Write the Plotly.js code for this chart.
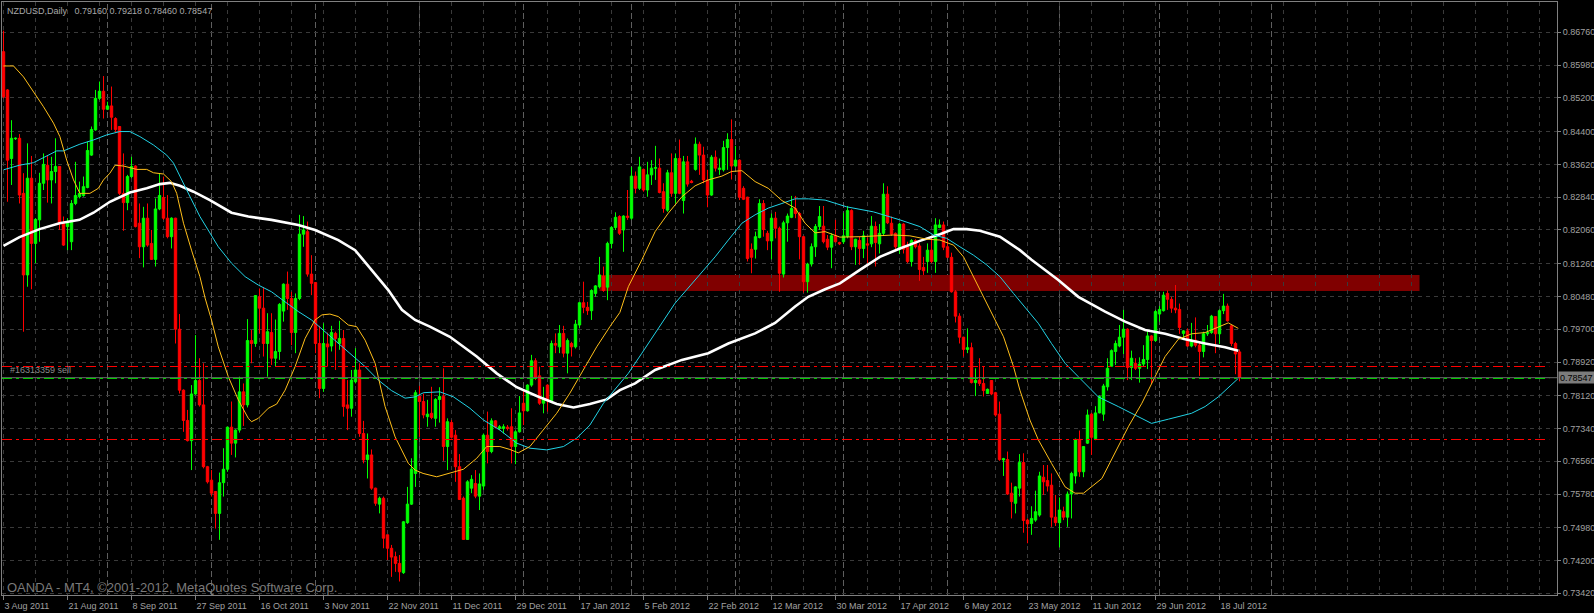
<!DOCTYPE html>
<html><head><meta charset="utf-8">
<script src="https://cdn.plot.ly/plotly-3.0.1.min.js"></script>
<style>html,body{margin:0;padding:0;background:#000;overflow:hidden}#chart{width:1594px;height:613px}</style>
</head><body><div id="chart"></div>
<script>
// ---- NZDUSD Daily OHLC (one value per bar, bar 0 = 3 Aug 2011) ----
const openP = [
0.8630,0.8539,0.8376,0.8423,0.8424,0.8293,0.8099,0.8329,0.8174,0.8230,
0.8317,0.8360,0.8325,0.8345,0.8357,0.8223,0.8214,0.8178,0.8269,0.8285,
0.8288,0.8307,0.8384,0.8444,0.8519,0.8536,0.8493,0.8501,0.8471,0.8452,
0.8293,0.8271,0.8333,0.8358,0.8222,0.8166,0.8234,0.8174,0.8136,0.8256,
0.8283,0.8234,0.8190,0.8234,0.7970,0.7825,0.7753,0.7705,0.7816,0.7848,
0.7790,0.7643,0.7611,0.7584,0.7532,0.7605,0.7637,0.7737,0.7699,0.7730,
0.7821,0.7790,0.7943,0.7936,0.8047,0.8020,0.7936,0.7962,0.7901,0.7917,
0.8013,0.8077,0.8043,0.7962,0.8043,0.8196,0.8202,0.8101,0.8081,0.7936,
0.7829,0.7935,0.7930,0.7960,0.7936,0.7948,0.7790,0.7782,0.7845,0.7873,
0.7722,0.7660,0.7671,0.7592,0.7554,0.7568,0.7481,0.7449,0.7429,0.7413,
0.7391,0.7510,0.7554,0.7627,0.7810,0.7798,0.7762,0.7770,0.7758,0.7803,
0.7810,0.7691,0.7748,0.7718,0.7643,0.7568,0.7470,0.7592,0.7603,0.7573,
0.7597,0.7718,0.7679,0.7752,0.7734,0.7734,0.7737,0.7738,0.7691,0.7726,
0.7794,0.7776,0.7837,0.7895,0.7859,0.7794,0.7837,0.7800,0.7936,0.7928,
0.7960,0.7913,0.7936,0.7928,0.7980,0.8033,0.8022,0.8014,0.8055,0.8071,
0.8096,0.8070,0.8174,0.8212,0.8238,0.8206,0.8239,0.8234,0.8334,0.8305,
0.8350,0.8301,0.8337,0.8353,0.8353,0.8297,0.8253,0.8342,0.8293,0.8376,
0.8276,0.8368,0.8322,0.8350,0.8410,0.8384,0.8325,0.8289,0.8379,0.8350,
0.8349,0.8402,0.8421,0.8358,0.8372,0.8305,0.8284,0.8160,0.8160,0.8188,
0.8269,0.8198,0.8180,0.8234,0.8210,0.8101,0.8223,0.8236,0.8257,0.8245,
0.8190,0.8083,0.8125,0.8166,0.8214,0.8215,0.8184,0.8165,0.8192,0.8176,
0.8178,0.8190,0.8252,0.8166,0.8181,0.8162,0.8173,0.8173,0.8214,0.8173,
0.8198,0.8291,0.8222,0.8198,0.8160,0.8220,0.8166,0.8131,0.8181,0.8168,
0.8117,0.8131,0.8158,0.8131,0.8212,0.8218,0.8166,0.8141,0.8059,0.8001,
0.7951,0.7922,0.7926,0.7843,0.7849,0.7841,0.7817,0.7848,0.7819,0.7768,
0.7659,0.7660,0.7580,0.7556,0.7592,0.7653,0.7516,0.7508,0.7516,0.7528,
0.7618,0.7610,0.7599,0.7523,0.7510,0.7536,0.7523,0.7578,0.7621,0.7708,
0.7631,0.7699,0.7768,0.7710,0.7771,0.7768,0.7833,0.7882,0.7917,0.7930,
0.7951,0.7970,0.7879,0.7889,0.7877,0.7887,0.7898,0.7954,0.7943,0.8006,
0.8014,0.8055,0.8041,0.8020,0.8017,0.7960,0.7966,0.7930,0.7944,0.7932,
0.7917,0.7959,0.7962,0.8000,0.7959,0.8014,0.8025,0.7978,0.7936,0.79160];
const highP = [
0.8680,0.8541,0.8467,0.8426,0.8434,0.8341,0.8412,0.8382,0.8234,0.8342,
0.8388,0.8384,0.8380,0.8424,0.8358,0.8238,0.8234,0.8277,0.8368,0.8321,
0.8333,0.8416,0.8452,0.8539,0.8559,0.8572,0.8511,0.8547,0.8474,0.8453,
0.8388,0.8337,0.8380,0.8360,0.8269,0.8261,0.8269,0.8206,0.8281,0.8341,
0.8333,0.8289,0.8236,0.8235,0.8006,0.7827,0.7778,0.7837,0.7956,0.7901,
0.7889,0.7645,0.7635,0.7584,0.7629,0.7687,0.7738,0.7798,0.7732,0.7857,
0.7841,0.7994,0.7968,0.8051,0.8067,0.8070,0.8008,0.8008,0.7993,0.8032,
0.8079,0.8107,0.8059,0.8055,0.8242,0.8239,0.8226,0.8146,0.8081,0.7978,
0.7984,0.7962,0.7978,0.7964,0.7990,0.7968,0.7849,0.7873,0.7925,0.7889,
0.7752,0.7722,0.7684,0.7593,0.7572,0.7572,0.7482,0.7457,0.7441,0.7433,
0.7514,0.7595,0.7663,0.7825,0.7835,0.7817,0.7802,0.7833,0.7806,0.7832,
0.7877,0.7758,0.7754,0.7730,0.7673,0.7572,0.7611,0.7623,0.7635,0.7627,
0.7722,0.7774,0.7758,0.7754,0.7742,0.7744,0.7742,0.7782,0.7730,0.7811,
0.7825,0.7839,0.7909,0.7901,0.7881,0.7833,0.7839,0.7943,0.7960,0.7980,
0.7978,0.7948,0.7940,0.7992,0.8035,0.8083,0.8035,0.8065,0.8075,0.8142,
0.8119,0.8178,0.8215,0.8248,0.8241,0.8241,0.8301,0.8356,0.8345,0.8380,
0.8352,0.8368,0.8372,0.8406,0.8376,0.8317,0.8349,0.8388,0.8388,0.8421,
0.8382,0.8382,0.8325,0.8426,0.8416,0.8404,0.8349,0.8384,0.8395,0.8376,
0.8418,0.8436,0.8469,0.8406,0.8374,0.8310,0.8285,0.8174,0.8202,0.8279,
0.8277,0.8204,0.8245,0.8249,0.8214,0.8228,0.8245,0.8287,0.8287,0.8249,
0.8192,0.8128,0.8174,0.8220,0.8263,0.8263,0.8194,0.8198,0.8230,0.8178,
0.8247,0.8263,0.8255,0.8185,0.8190,0.8204,0.8188,0.8239,0.8226,0.8220,
0.8317,0.8310,0.8238,0.8200,0.8223,0.8222,0.8178,0.8184,0.8184,0.8174,
0.8142,0.8174,0.8190,0.8234,0.8231,0.8226,0.8188,0.8152,0.8063,0.8008,
0.7952,0.7972,0.7938,0.7877,0.7901,0.7882,0.7829,0.7849,0.7821,0.7798,
0.7664,0.7679,0.7605,0.7597,0.7673,0.7675,0.7520,0.7549,0.7586,0.7631,
0.7647,0.7647,0.7627,0.7576,0.7570,0.7548,0.7584,0.7631,0.7710,0.7729,
0.7692,0.7779,0.7771,0.7787,0.7813,0.7840,0.7901,0.7922,0.7943,0.7980,
0.8016,0.7972,0.7919,0.7901,0.7903,0.7932,0.7968,0.7956,0.8016,0.8025,
0.8059,0.8062,0.8047,0.8075,0.8031,0.7968,0.7972,0.7985,0.7998,0.7940,
0.7964,0.7980,0.8004,0.8001,0.8017,0.8054,0.8031,0.7980,0.7940,0.79218];
const lowP = [
0.8519,0.8273,0.8313,0.8420,0.8269,0.7964,0.8071,0.8065,0.8127,0.8178,
0.8301,0.8271,0.8269,0.8317,0.8206,0.8168,0.8158,0.8158,0.8265,0.8281,
0.8285,0.8305,0.8382,0.8442,0.8515,0.8471,0.8491,0.8444,0.8437,0.8289,
0.8204,0.8253,0.8329,0.8212,0.8139,0.8117,0.8166,0.8135,0.8119,0.8253,
0.8230,0.8186,0.8162,0.7936,0.7817,0.7726,0.7703,0.7635,0.7814,0.7786,
0.7639,0.7603,0.7572,0.7496,0.7469,0.7572,0.7631,0.7671,0.7665,0.7724,
0.7740,0.7784,0.7889,0.7928,0.7960,0.7905,0.7857,0.7885,0.7881,0.7897,
0.7988,0.8016,0.7932,0.7913,0.8039,0.8166,0.8095,0.8051,0.7913,0.7806,
0.7821,0.7881,0.7917,0.7873,0.7921,0.7762,0.7730,0.7762,0.7841,0.7714,
0.7651,0.7615,0.7588,0.7550,0.7532,0.7449,0.7421,0.7381,0.7393,0.7370,
0.7388,0.7507,0.7552,0.7595,0.7714,0.7758,0.7738,0.7756,0.7738,0.7748,
0.7657,0.7635,0.7710,0.7607,0.7564,0.7469,0.7469,0.7580,0.7568,0.7540,
0.7588,0.7651,0.7675,0.7734,0.7730,0.7722,0.7729,0.7651,0.7649,0.7724,
0.7742,0.7774,0.7833,0.7849,0.7790,0.7770,0.7774,0.7798,0.7913,0.7913,
0.7903,0.7865,0.7905,0.7924,0.7972,0.8008,0.8004,0.7992,0.8047,0.8067,
0.8059,0.8039,0.8162,0.8206,0.8194,0.8154,0.8230,0.8230,0.8293,0.8301,
0.8297,0.8285,0.8313,0.8325,0.8293,0.8247,0.8249,0.8285,0.8269,0.8291,
0.8245,0.8309,0.8317,0.8347,0.8337,0.8317,0.8260,0.8287,0.8345,0.8337,
0.8345,0.8349,0.8326,0.8356,0.8277,0.8277,0.8131,0.8103,0.8138,0.8186,
0.8190,0.8158,0.8136,0.8186,0.8059,0.8093,0.8178,0.8234,0.8234,0.8136,
0.8057,0.8057,0.8119,0.8142,0.8206,0.8174,0.8158,0.8115,0.8176,0.8170,
0.8173,0.8186,0.8158,0.8123,0.8123,0.8139,0.8127,0.8165,0.8119,0.8150,
0.8194,0.8220,0.8192,0.8158,0.8149,0.8150,0.8127,0.8119,0.8162,0.8085,
0.8099,0.8104,0.8127,0.8104,0.8210,0.8158,0.8139,0.8057,0.7986,0.7936,
0.7905,0.7913,0.7841,0.7811,0.7835,0.7810,0.7816,0.7813,0.7762,0.7657,
0.7621,0.7576,0.7520,0.7532,0.7572,0.7486,0.7461,0.7481,0.7512,0.7524,
0.7576,0.7584,0.7500,0.7502,0.7451,0.7516,0.7500,0.7520,0.7603,0.7619,
0.7618,0.7697,0.7671,0.7706,0.7770,0.7752,0.7824,0.7881,0.7885,0.7927,
0.7911,0.7849,0.7849,0.7873,0.7843,0.7881,0.7875,0.7840,0.7940,0.7988,
0.8012,0.8016,0.8009,0.8008,0.7959,0.7944,0.7928,0.7927,0.7927,0.7859,
0.7903,0.7954,0.7959,0.7913,0.7935,0.8006,0.7988,0.7930,0.7863,0.78460];
const closeP = [
0.8523,0.8372,0.8424,0.8424,0.8289,0.8099,0.8329,0.8174,0.8231,0.8317,
0.8362,0.8325,0.8345,0.8357,0.8222,0.8170,0.8226,0.8269,0.8288,0.8293,
0.8309,0.8395,0.8445,0.8519,0.8536,0.8493,0.8501,0.8474,0.8445,0.8293,
0.8271,0.8333,0.8357,0.8214,0.8166,0.8234,0.8170,0.8136,0.8256,0.8288,
0.8234,0.8190,0.8234,0.7970,0.7825,0.7753,0.7705,0.7816,0.7848,0.7790,
0.7643,0.7607,0.7580,0.7532,0.7605,0.7637,0.7737,0.7699,0.7730,0.7821,
0.7790,0.7943,0.7936,0.8050,0.8020,0.7936,0.7964,0.7901,0.7917,0.8029,
0.8077,0.8043,0.7962,0.8043,0.8196,0.8206,0.8101,0.8079,0.7936,0.7829,
0.7936,0.7928,0.7962,0.7948,0.7948,0.7786,0.7782,0.7849,0.7873,0.7722,
0.7659,0.7671,0.7592,0.7556,0.7568,0.7473,0.7449,0.7428,0.7413,0.7393,
0.7512,0.7554,0.7637,0.7819,0.7798,0.7766,0.7768,0.7760,0.7803,0.7810,
0.7691,0.7750,0.7713,0.7643,0.7565,0.7470,0.7607,0.7613,0.7573,0.7602,
0.7718,0.7679,0.7752,0.7737,0.7738,0.7738,0.7734,0.7691,0.7726,0.7771,
0.7776,0.7837,0.7895,0.7855,0.7794,0.7803,0.7800,0.7936,0.7932,0.7960,
0.7913,0.7943,0.7928,0.7982,0.8033,0.8022,0.8014,0.8062,0.8073,0.8099,
0.8062,0.8174,0.8212,0.8236,0.8198,0.8239,0.8236,0.8334,0.8305,0.8356,
0.8301,0.8337,0.8353,0.8354,0.8295,0.8257,0.8342,0.8293,0.8376,0.8293,
0.8368,0.8315,0.8319,0.8410,0.8384,0.8325,0.8289,0.8379,0.8353,0.8353,
0.8402,0.8421,0.8358,0.8372,0.8284,0.8279,0.8138,0.8141,0.8190,0.8269,
0.8207,0.8180,0.8234,0.8210,0.8103,0.8223,0.8239,0.8257,0.8245,0.8190,
0.8083,0.8125,0.8166,0.8214,0.8238,0.8178,0.8165,0.8192,0.8178,0.8173,
0.8192,0.8252,0.8166,0.8184,0.8162,0.8192,0.8170,0.8215,0.8176,0.8198,
0.8291,0.8223,0.8196,0.8166,0.8220,0.8160,0.8131,0.8181,0.8166,0.8112,
0.8109,0.8158,0.8131,0.8218,0.8218,0.8165,0.8141,0.8059,0.8001,0.7951,
0.7922,0.7926,0.7843,0.7848,0.7841,0.7824,0.7827,0.7816,0.7766,0.7660,
0.7662,0.7578,0.7560,0.7595,0.7653,0.7515,0.7507,0.7520,0.7536,0.7621,
0.7607,0.7597,0.7523,0.7510,0.7540,0.7523,0.7578,0.7627,0.7708,0.7631,
0.7691,0.7766,0.7713,0.7771,0.7810,0.7835,0.7877,0.7919,0.7936,0.7951,
0.7970,0.7879,0.7901,0.7877,0.7887,0.7898,0.7954,0.7943,0.8012,0.8017,
0.8051,0.8041,0.8020,0.8016,0.7974,0.7966,0.7930,0.7944,0.7932,0.7917,
0.7959,0.7962,0.8001,0.7959,0.8014,0.8025,0.7990,0.7936,0.7911,0.78547];

// ---- Moving averages (bar position, price) ----
const slowMaBars = [0,4,9,14,19, 22.5,26.6,31.6,35.8,39.1, 41.6,44.1,47.5,51.6,57, 61.2,67,73.7,77.9,83.7,
 87.9,92,96.2,99.6,102.9, 106.6,111.6,118.3,123.3,128.3, 133.3,138.3,142.5,146.6,150.8, 154.1,157.9,162.9,169.6,176.2,
 181.2,187.9,192.9,197.9,201.2, 205.4,209.1,214.1,219.1,224.1, 229.1,234.1,237.5,240.8,244.1, 249.1,254.1,257,263.7,268.7,
 275.4,280.4,285.4,290.4,295.4, 300.4,305.4,308.7];
const slowMaVals = [0.8168,0.8189,0.8208,0.8222,0.8230, 0.8247,0.8273,0.8295,0.8305,0.8315, 0.8318,0.8311,0.8297,0.8277,0.8247, 0.8238,0.8230,0.8218,0.8206,0.8182,
 0.8158,0.8111,0.8063,0.8016,0.7992, 0.7976,0.7952,0.7905,0.7865,0.7832, 0.7811,0.7792,0.7784,0.7792,0.7803, 0.7825,0.7841,0.7873,0.7897,0.7913,
 0.7936,0.7960,0.7985,0.8024,0.8047, 0.8065,0.8079,0.8111,0.8142,0.8162, 0.8180,0.8196,0.8208,0.8208,0.8204, 0.8190,0.8158,0.8135,0.8087,0.8047,
 0.8012,0.7988,0.7968,0.7959,0.7946, 0.7936,0.7927,0.7919];
const midMaBars = [0,4,7.5,10.8,13.3, 15,19.1,22.5,25.8,29.1, 31.6,34.1,37.5,40.8,42.5, 45.8,49.1,51.6,53.7,57,
 60.4,63.7,67,70.4,73.7, 77,80.4,83.7,87,90.4, 93.7,97,100.4,102.9,105, 109.1,112.5,116.6,120,124.1,
 128.3,131.6,135.8,140,143.3, 146.6,150,154.1,156.2,159.6, 162.9,167.9,172.9,177.9,181.2, 184.6,187.9,191.2,194.6,197.9,
 201.2,205.4,210.8,217.5,224.1, 229.1,232.5,235.8,239.1,242.5, 245.8,249.1,252.5,256.6,258.7, 262,265.4,268.7,273.7,278.7,
 282.9,287,291.2,297,300.4, 303.7,308.7];
const midMaVals = [0.8349,0.8360,0.8366,0.8382,0.8394, 0.8394,0.8410,0.8420,0.8432,0.8440, 0.8440,0.8428,0.8408,0.8384,0.8365, 0.8301,0.8238,0.8199,0.8166,0.8127,
 0.8095,0.8075,0.8059,0.8035,0.8012, 0.7992,0.7964,0.7936,0.7909,0.7881, 0.7849,0.7824,0.7806,0.7809,0.7819, 0.7821,0.7809,0.7782,0.7754,0.7730,
 0.7699,0.7687,0.7683,0.7691,0.7711, 0.7742,0.7794,0.7841,0.7865,0.7913, 0.7960,0.8032,0.8087,0.8142,0.8182, 0.8222,0.8242,0.8258,0.8269,0.8280,
 0.8280,0.8277,0.8261,0.8249,0.8230, 0.8214,0.8194,0.8186,0.8166,0.8146, 0.8123,0.8095,0.8055,0.8008,0.7984, 0.7936,0.7889,0.7857,0.7809,0.7786,
 0.7766,0.7746,0.7756,0.7770,0.7786, 0.7809,0.7853];
const fastMaBars = [0,2.5,5,7.5,10, 12.5,14.1,15.8,17.5,19.1, 21.6,23.7,25,26.6,27.9, 30,33.3,35.8,37.5,40,
 42,43.3,45,47,49.1, 50.4,52,53.7,56.2,58.7, 61.2,62,63.7,66.2,68.3, 70.4,72.9,75.4,77.9,79.6,
 81.6,83.7,86.2,88.3,90.4, 92.9,95.4,97.9,101.2,102.9, 104.9,108.3,111.6,115,118.3, 120.8,124.1,126.6,128.7,131.6,
 134.9,138.3,141.6,145,148.3, 151.6,154.1,156.2,159.6,162.9, 166.2,169.6,172.9,176.2,179.6, 182,184.6,187.9,191.2,194.6,
 197.9,200.4,202.9,205.4,209.1, 214.1,219.1,222.5,226.6,230.8, 234.1,237.5,240,242.5,245, 247.5,250,252.5,254.1,256.6,
 258.7,262,265.4,267.9,270, 274.6,277.9,281.2,284.6,287.9, 290.4,293.7,297,300.4,303.7, 306.2,308.7];
const fastMaVals = [0.8596,0.8596,0.8570,0.8535,0.8499, 0.8460,0.8428,0.8372,0.8325,0.8293, 0.8293,0.8305,0.8325,0.8341,0.8360, 0.8358,0.8350,0.8350,0.8342,0.8339,
 0.8321,0.8293,0.8222,0.8158,0.8095, 0.8044,0.7992,0.7928,0.7857,0.7802, 0.7758,0.7750,0.7758,0.7782,0.7792, 0.7825,0.7881,0.7948,0.7992,0.8004,
 0.8006,0.8000,0.7980,0.7976,0.7944, 0.7889,0.7786,0.7714,0.7651,0.7635, 0.7627,0.7619,0.7627,0.7637,0.7663, 0.7691,0.7691,0.7684,0.7676,0.7691,
 0.7730,0.7770,0.7818,0.7873,0.7928, 0.7976,0.8010,0.8071,0.8135,0.8202, 0.8246,0.8285,0.8311,0.8325,0.8334, 0.8345,0.8347,0.8321,0.8305,0.8276,
 0.8258,0.8222,0.8199,0.8202,0.8189, 0.8190,0.8192,0.8194,0.8192,0.8184, 0.8182,0.8170,0.8142,0.8095,0.8047, 0.8000,0.7952,0.7881,0.7825,0.7754,
 0.7707,0.7651,0.7595,0.7580,0.7580, 0.7615,0.7675,0.7738,0.7794,0.7857, 0.7905,0.7946,0.7959,0.7962,0.7976, 0.7985,0.7972];

// ---- axis labels ----
const dateLabels = ['3 Aug 2011','21 Aug 2011','8 Sep 2011','27 Sep 2011','16 Oct 2011','3 Nov 2011','22 Nov 2011',
 '11 Dec 2011','29 Dec 2011','17 Jan 2012','5 Feb 2012','22 Feb 2012','12 Mar 2012','30 Mar 2012','17 Apr 2012',
 '6 May 2012','23 May 2012','11 Jun 2012','29 Jun 2012','18 Jul 2012'];
const dateLabelBars = [0,16,32,48,64,80,96,112,128,144,160,176,192,208,224,240,256,272,288,304];
const priceTicks = [0.86760,0.85980,0.85200,0.84400,0.83620,0.82840,0.82060,0.81260,0.80480,
 0.79700,0.78920,0.78120,0.77340,0.76560,0.75780,0.74980,0.74200,0.73420];
const monthSeparatorBars = [26,52,78,104,130,157,183,210,236,264,289,317];

// ---- objects on the chart ----
const bidPrice = 0.78547;
const orderPrice = 0.78528;
const stopLevel = 0.78813;
const takeLevel = 0.77077;
const zoneBars = [149, 354];
const zonePrices = [0.80608, 0.80989];
const headerText = 'NZDUSD,Daily\u00a0\u00a0\u00a00.79160 0.79218 0.78460 0.78547';
const orderText = '#16313359 sell';
const footerText = 'OANDA - MT4, \u00a92001-2012, MetaQuotes Software Corp.';

const barIdx = closeP.map((_, i) => i);
const GRID = '#3a3a3a', FG = '#a0a0a0', FRAME = '#808080';

const traces = [
  {type:'candlestick', x:barIdx, open:openP, high:highP, low:lowP, close:closeP,
   increasing:{line:{color:'#00ff00', width:1}, fillcolor:'#00ff00'},
   decreasing:{line:{color:'#ff0000', width:1}, fillcolor:'#ff0000'},
   whiskerwidth:0, hoverinfo:'skip'},
  {type:'scatter', mode:'lines', x:slowMaBars, y:slowMaVals, line:{color:'#ffffff', width:2.6}, hoverinfo:'skip'},
  {type:'scatter', mode:'lines', x:midMaBars, y:midMaVals, line:{color:'#22d3e6', width:1}, hoverinfo:'skip'},
  {type:'scatter', mode:'lines', x:fastMaBars, y:fastMaVals, line:{color:'#ffbf1a', width:1}, hoverinfo:'skip'}
];

const shapes = [];
monthSeparatorBars.forEach(b => shapes.push({type:'line', xref:'x', yref:'paper', x0:b, x1:b, y0:0, y1:1,
  line:{color:'#5e5e5e', width:1, dash:'6px,3px'}, layer:'below'}));
shapes.push({type:'rect', xref:'x', yref:'y', x0:zoneBars[0], x1:zoneBars[1], y0:zonePrices[0], y1:zonePrices[1],
  fillcolor:'#800000', line:{width:0}, layer:'below'});
shapes.push({type:'line', xref:'paper', yref:'y', x0:0, x1:1, y0:bidPrice, y1:bidPrice, line:{color:'#6a6a6a', width:1}, layer:'above'});
shapes.push({type:'line', xref:'paper', yref:'y', x0:0, x1:0.995, y0:stopLevel, y1:stopLevel, line:{color:'#ff0000', width:1, dash:'10px,4px,3px,4px'}, layer:'above'});
shapes.push({type:'line', xref:'paper', yref:'y', x0:0, x1:0.995, y0:takeLevel, y1:takeLevel, line:{color:'#ff0000', width:1, dash:'10px,4px,3px,4px'}, layer:'above'});
shapes.push({type:'line', xref:'paper', yref:'y', x0:0, x1:0.995, y0:orderPrice, y1:orderPrice, line:{color:'#00d000', width:1, dash:'10px,4px,3px,4px'}, layer:'above'});

const layout = {
  width:1594, height:613,
  paper_bgcolor:'#000000', plot_bgcolor:'#000000',
  margin:{l:2, r:37, t:2, b:18, pad:0},
  showlegend:false,
  boxgap:0.4, boxgroupgap:0,
  font:{family:'Liberation Sans, Arial, sans-serif', size:9, color:FG},
  title:{text:headerText, x:7/1594, xref:'container', xanchor:'left', y:1-10.5/613, yref:'container', yanchor:'middle',
    font:{family:'Liberation Sans, Arial, sans-serif', size:9, color:'#a8a8a8'}},
  xaxis:{type:'linear', range:[-0.375, 388.375], rangeslider:{visible:false}, fixedrange:true,
    tickmode:'array', tickvals:dateLabelBars, ticktext:dateLabels, tickangle:0,
    ticks:'outside', ticklen:4, tickcolor:FRAME, ticklabelposition:'outside right', ticklabelstandoff:2,
    tickfont:{size:9, color:FG},
    showgrid:true, gridcolor:GRID, gridwidth:1, griddash:'4px,4px',
    minor:{tickmode:'linear', tick0:0, dtick:8, showgrid:true, gridcolor:GRID, gridwidth:1, griddash:'4px,4px', ticks:''},
    showline:true, mirror:true, linecolor:FRAME, linewidth:1, zeroline:false},
  yaxis:{side:'right', range:[0.73379, 0.87481], fixedrange:true,
    tickmode:'array', tickvals:priceTicks, ticktext:priceTicks.map(v => v.toFixed(5)),
    ticks:'outside', ticklen:3, tickcolor:FRAME, tickfont:{size:9, color:FG},
    showgrid:true, gridcolor:GRID, gridwidth:1, griddash:'4px,4px',
    showline:true, mirror:true, linecolor:FRAME, linewidth:1, zeroline:false},
  shapes:shapes,
  annotations:[
    {xref:'paper', yref:'y', x:(8-2)/1555, y:orderPrice, xanchor:'left', yanchor:'bottom', yshift:1,
     text:orderText, showarrow:false, font:{size:9, color:'#8a8a8a'}},
    {xref:'paper', yref:'paper', x:(5-2)/1555, y:1-(587-2)/593, xanchor:'left', yanchor:'middle',
     text:footerText, showarrow:false, font:{size:13, color:'#7a7a7a'}},
    {xref:'paper', yref:'y', x:1, y:bidPrice, xanchor:'left', yanchor:'middle', xshift:1,
     text:bidPrice.toFixed(5), showarrow:false, bgcolor:'#7c7c7c', borderpad:1, width:36, height:9, align:'left',
     font:{size:9, color:'#000000'}}
  ]
};

Plotly.newPlot('chart', traces, layout, {staticPlot:true, displayModeBar:false});
</script></body></html>
